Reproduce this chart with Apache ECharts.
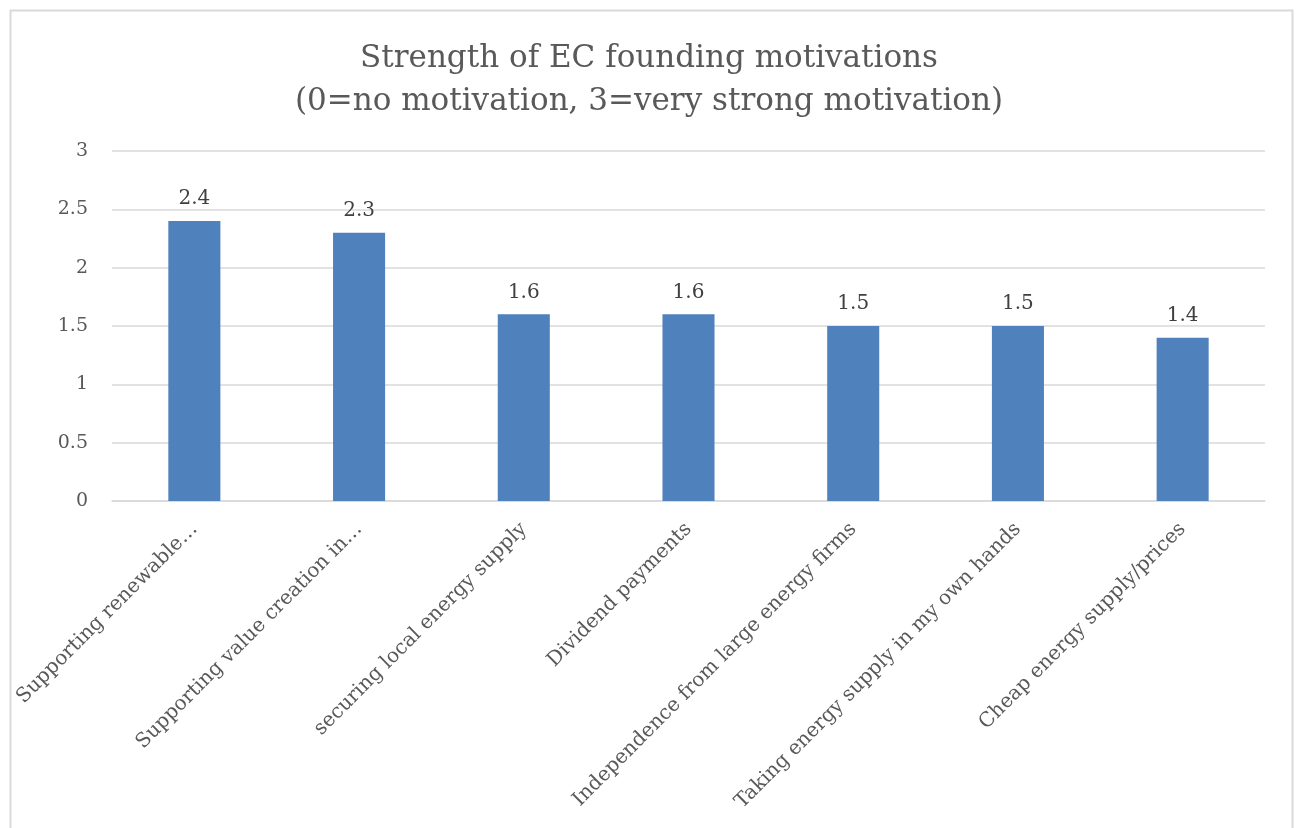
<!DOCTYPE html>
<html>
<head>
<meta charset="utf-8">
<script src="https://cdn.jsdelivr.net/npm/echarts@6/dist/echarts.min.js"></script>
<style>
html,body{margin:0;padding:0;background:#fff;}
#chart{width:1298px;height:828px;}
</style>
</head>
<body>
<div id="chart"></div>
<script>
const titleLines = ["Strength of EC founding motivations", "(0=no motivation, 3=very strong motivation)"];
const categories = [
  "Supporting renewable…",
  "Supporting value creation in…",
  "securing local energy supply",
  "Dividend payments",
  "Independence from large energy firms",
  "Taking energy supply in my own hands",
  "Cheap energy supply/prices"
];
const values = [2.4, 2.3, 1.6, 1.6, 1.5, 1.5, 1.4];
const yTicks = { min: 0, max: 3, interval: 0.5 };

const FONT = "DejaVu Serif";
const chart = echarts.init(document.getElementById('chart'), null, {renderer: 'canvas'});
chart.setOption({
  backgroundColor: '#ffffff',
  animation: false,
  graphic: [{
    type: 'rect', silent: true, z: -1,
    shape: {x: 10.5, y: 10.5, width: 1282, height: 840},
    style: {fill: 'none', stroke: '#d9d9d9', lineWidth: 2}
  }],
  title: {
    text: titleLines.join('\n'),
    left: 'center',
    top: 32,
    textStyle: {fontFamily: FONT, fontSize: 31, fontWeight: 'normal', color: '#595959', lineHeight: 43}
  },
  grid: {left: 112, right: 33, top: 151, bottom: 327, containLabel: false},
  xAxis: {
    type: 'category',
    data: categories,
    axisLine: {lineStyle: {color: '#d9d9d9', width: 1.5}},
    axisTick: {show: false},
    axisLabel: {rotate: 45, interval: 0, margin: 25, fontFamily: FONT, fontSize: 20, color: '#595959'}
  },
  yAxis: {
    type: 'value',
    min: yTicks.min, max: yTicks.max, interval: yTicks.interval,
    axisLine: {show: false},
    axisTick: {show: false},
    splitLine: {lineStyle: {color: '#d9d9d9', width: 1.5}},
    axisLabel: {margin: 24, fontFamily: FONT, fontSize: 19, color: '#595959'}
  },
  series: [{
    type: 'bar',
    data: values,
    barWidth: '31.6%',
    itemStyle: {color: '#4f81bd'},
    label: {show: true, position: 'top', distance: 12, fontFamily: FONT, fontSize: 20, color: '#404040'}
  }]
});
</script>
</body>
</html>
